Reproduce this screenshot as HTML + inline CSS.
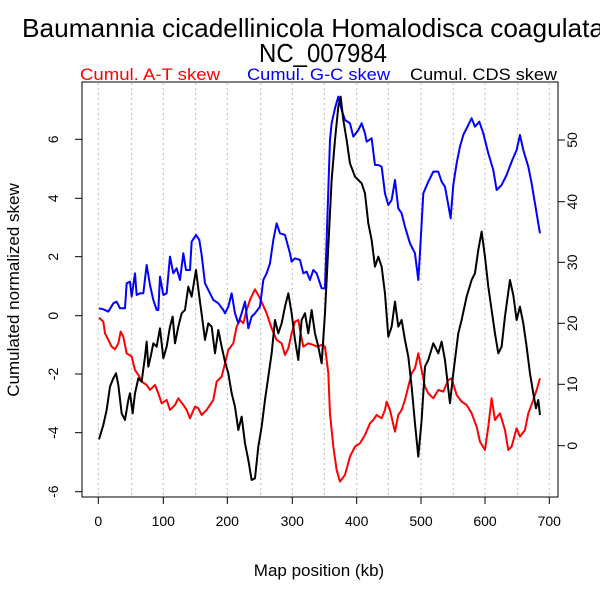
<!DOCTYPE html>
<html><head><meta charset="utf-8"><style>body{margin:0;background:#fff}svg{display:block}text{font-family:"Liberation Sans",sans-serif}</style></head><body>
<svg width="600" height="600" viewBox="0 0 600 600" xmlns="http://www.w3.org/2000/svg">
<rect width="600" height="600" fill="#fff"/>
<text x="22" y="37" font-size="26" textLength="582" lengthAdjust="spacingAndGlyphs">Baumannia cicadellinicola Homalodisca coagulata</text>
<text x="323" y="62" font-size="26" text-anchor="middle" textLength="128" lengthAdjust="spacingAndGlyphs">NC_007984</text>
<text x="80" y="80" font-size="17" fill="#f00" textLength="140" lengthAdjust="spacingAndGlyphs">Cumul. A-T skew</text>
<text x="247" y="80" font-size="17" fill="#00f" textLength="143" lengthAdjust="spacingAndGlyphs">Cumul. G-C skew</text>
<text x="410" y="80" font-size="17" fill="#000" textLength="147" lengthAdjust="spacingAndGlyphs">Cumul. CDS skew</text>
<g stroke="#bbb" stroke-dasharray="2,3" stroke-width="1">
<line x1="98.3" y1="83" x2="98.3" y2="497"/><line x1="131.7" y1="83" x2="131.7" y2="497"/><line x1="163.3" y1="83" x2="163.3" y2="497"/><line x1="195.7" y1="83" x2="195.7" y2="497"/><line x1="227.3" y1="83" x2="227.3" y2="497"/><line x1="260.7" y1="83" x2="260.7" y2="497"/><line x1="292.3" y1="83" x2="292.3" y2="497"/><line x1="324.3" y1="83" x2="324.3" y2="497"/><line x1="356.7" y1="83" x2="356.7" y2="497"/><line x1="388.3" y1="83" x2="388.3" y2="497"/><line x1="421" y1="83" x2="421" y2="497"/><line x1="453.3" y1="83" x2="453.3" y2="497"/><line x1="485" y1="83" x2="485" y2="497"/><line x1="517.7" y1="83" x2="517.7" y2="497"/><line x1="549.3" y1="83" x2="549.3" y2="497"/>
</g>
<g transform="translate(80,80) scale(0.3333)" fill="none" stroke-width="6" stroke-linejoin="round">
<polyline stroke="#f00" points="57,713 70,725 75,760 85,780 95,800 105,808 115,790 122,755 130,770 140,820 155,830 165,870 178,890 185,905 200,915 210,930 225,915 235,940 245,970 260,960 270,990 285,975 295,955 310,975 320,990 330,1015 345,980 355,985 365,1005 380,990 400,960 410,905 425,890 435,850 445,810 460,790 470,740 480,720 490,730 500,690 510,660 525,628 540,655 560,700 575,745 590,780 605,790 615,825 625,805 635,760 645,725 655,720 660,750 670,800 685,790 700,795 712,800 725,795 735,800 745,880 750,1000 760,1100 770,1170 780,1205 795,1185 810,1130 825,1100 840,1090 855,1065 870,1030 880,1020 890,1005 905,1015 915,990 920,965 930,990 945,1055 955,1005 965,990 975,960 985,920 995,880 1005,865 1015,820 1025,870 1035,920 1045,940 1060,955 1075,930 1090,935 1105,900 1115,895 1130,945 1145,965 1160,975 1175,1000 1190,1040 1200,1085 1215,1110 1225,1040 1235,955 1245,1020 1260,1000 1275,1050 1285,1110 1295,1100 1310,1045 1320,1070 1335,1050 1345,1000 1360,960 1370,930 1380,895"/>
<polyline stroke="#00f" points="57,685 70,688 85,695 100,670 110,665 120,685 135,685 140,610 150,605 155,650 165,580 170,645 180,640 190,640 200,555 210,615 220,660 230,690 235,690 240,590 250,645 260,640 270,530 280,580 290,565 300,600 310,520 318,570 330,570 335,485 348,465 358,480 365,525 375,610 390,640 400,660 415,670 430,690 435,700 445,680 455,640 465,700 475,730 485,700 495,665 505,745 515,710 525,700 540,680 550,600 560,580 570,550 580,480 590,430 600,460 615,465 630,520 635,545 645,535 660,540 670,580 680,575 690,600 700,570 710,580 725,625 735,625 740,480 745,330 750,180 755,130 765,85 775,50 785,90 795,120 810,130 820,170 835,150 845,130 855,160 860,185 875,175 885,255 895,255 905,260 915,340 925,375 935,360 945,300 955,385 965,400 975,440 990,490 1005,520 1015,600 1020,520 1030,340 1045,305 1060,275 1075,275 1085,305 1095,320 1105,375 1112,415 1120,315 1130,250 1140,200 1150,165 1160,145 1175,115 1185,140 1198,125 1210,160 1225,220 1240,270 1250,330 1265,315 1280,285 1295,245 1310,210 1320,165 1330,210 1345,260 1355,310 1365,370 1375,430 1380,460"/>
<polyline stroke="#000" points="57,1078 70,1035 80,990 90,920 100,895 108,880 115,915 125,1000 135,1020 145,960 150,940 158,1000 165,940 175,895 185,905 195,830 200,785 205,860 212,830 220,790 230,800 240,745 250,835 260,800 270,740 278,710 285,790 295,740 305,700 315,690 325,620 335,650 348,570 358,650 370,740 375,780 385,730 395,740 405,820 415,750 425,800 435,845 445,880 455,940 465,980 475,1050 485,1010 495,1090 505,1140 515,1200 525,1195 535,1100 545,1040 555,960 565,890 575,820 585,720 595,760 605,730 615,680 625,640 635,700 645,780 655,840 665,720 675,700 685,760 695,690 705,760 715,800 725,850 735,700 745,500 755,300 765,180 775,80 782,50 790,120 800,180 810,250 825,290 835,300 845,310 855,340 865,430 875,480 885,560 895,530 905,560 915,640 925,770 935,740 945,665 955,740 965,720 975,780 985,830 995,920 1005,1030 1015,1130 1025,1020 1035,860 1045,840 1060,790 1075,820 1085,785 1095,840 1110,970 1120,880 1135,760 1145,720 1160,650 1175,600 1185,580 1195,510 1205,455 1215,530 1225,620 1235,690 1245,760 1255,820 1265,800 1275,710 1290,600 1300,645 1310,720 1320,680 1330,730 1340,800 1350,880 1360,940 1368,985 1375,960 1380,1005"/>
</g>
<rect x="82" y="82" width="476" height="415" fill="none" stroke="#000" stroke-width="1"/>
<g stroke="#000" stroke-width="1">
<line x1="98.3" y1="497" x2="98.3" y2="504"/><line x1="163.3" y1="497" x2="163.3" y2="504"/><line x1="227.3" y1="497" x2="227.3" y2="504"/><line x1="292.3" y1="497" x2="292.3" y2="504"/><line x1="356.7" y1="497" x2="356.7" y2="504"/><line x1="421" y1="497" x2="421" y2="504"/><line x1="485" y1="497" x2="485" y2="504"/><line x1="549.3" y1="497" x2="549.3" y2="504"/>
<line x1="82" y1="139.3" x2="75" y2="139.3"/><line x1="82" y1="198.3" x2="75" y2="198.3"/><line x1="82" y1="256.7" x2="75" y2="256.7"/><line x1="82" y1="315.7" x2="75" y2="315.7"/><line x1="82" y1="374" x2="75" y2="374"/><line x1="82" y1="432.7" x2="75" y2="432.7"/><line x1="82" y1="491.7" x2="75" y2="491.7"/>
<line x1="558" y1="140" x2="565" y2="140"/><line x1="558" y1="201.7" x2="565" y2="201.7"/><line x1="558" y1="262.3" x2="565" y2="262.3"/><line x1="558" y1="323.3" x2="565" y2="323.3"/><line x1="558" y1="384.3" x2="565" y2="384.3"/><line x1="558" y1="445.7" x2="565" y2="445.7"/>
</g>
<g font-size="14" text-anchor="middle">
<text x="98.3" y="526">0</text><text x="163.3" y="526">100</text><text x="227.3" y="526">200</text><text x="292.3" y="526">300</text><text x="356.7" y="526">400</text><text x="421" y="526">500</text><text x="485" y="526">600</text><text x="549.3" y="526">700</text>
<text transform="translate(58,139.3) rotate(-90)">6</text><text transform="translate(58,198.3) rotate(-90)">4</text><text transform="translate(58,256.7) rotate(-90)">2</text><text transform="translate(58,315.7) rotate(-90)">0</text><text transform="translate(58,374) rotate(-90)">-2</text><text transform="translate(58,432.7) rotate(-90)">-4</text><text transform="translate(58,491.7) rotate(-90)">-6</text>
<text transform="translate(577,140) rotate(-90)">50</text><text transform="translate(577,201.7) rotate(-90)">40</text><text transform="translate(577,262.3) rotate(-90)">30</text><text transform="translate(577,323.3) rotate(-90)">20</text><text transform="translate(577,384.3) rotate(-90)">10</text><text transform="translate(577,445.7) rotate(-90)">0</text>
</g>
<text x="319" y="576" font-size="17" text-anchor="middle">Map position (kb)</text>
<text transform="translate(19,290) rotate(-90)" font-size="17" text-anchor="middle">Cumulated normalized skew</text>
</svg>
</body></html>
